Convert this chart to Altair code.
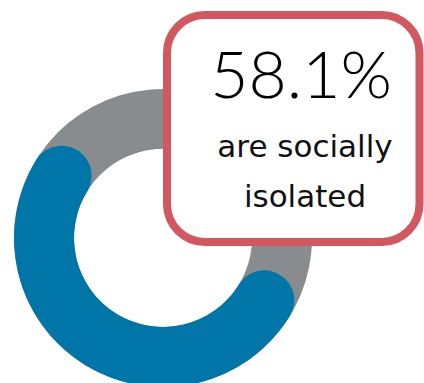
import altair as alt
import pandas as pd

# Data
share_isolated = [58.1]
share_total = [100.0]
headline = ["58.1%"]
caption_lines = ["are socially", "isolated"]

W, H = 424, 383
CX, CY = 163, 238
START = 1.8675  # radians, start angle of the blue arc
TAU = 6.283185307

theta_scale = alt.Scale(domain=[0, 100], range=[START, START + TAU])

ring_df = pd.DataFrame({"start": [0.0], "end": share_total})
blue_df = pd.DataFrame({"start": [0.0], "end": share_isolated})

ring = alt.Chart(ring_df).mark_arc(
    outerRadius=149, innerRadius=89, color="#898C8F"
).encode(
    theta=alt.Theta("start:Q", scale=theta_scale),
    theta2="end:Q",
    x=alt.value(CX), y=alt.value(CY),
)

blue = alt.Chart(blue_df).mark_arc(
    outerRadius=149, innerRadius=89, cornerRadius=30, color="#0076A8"
).encode(
    theta=alt.Theta("start:Q", scale=theta_scale),
    theta2="end:Q",
    x=alt.value(CX), y=alt.value(CY),
)

box = alt.Chart(pd.DataFrame({"k": [0]})).mark_rect(
    fill="white", stroke="#D2575E", strokeWidth=8, cornerRadius=38
).encode(
    x=alt.value(167), x2=alt.value(419.5), y=alt.value(15), y2=alt.value(242)
)

head = alt.Chart(pd.DataFrame({"t": headline})).mark_text(
    font="Lato", fontSize=66, fontWeight=300, color="black",
    align="center", baseline="alphabetic"
).encode(text="t:N", x=alt.value(301), y=alt.value(98))

cap_df = pd.DataFrame({"t": caption_lines, "yy": [157, 207]})
cap = alt.Chart(cap_df).mark_text(
    font="DejaVu Sans", fontSize=31, fontWeight="normal", color="#111111",
    align="center", baseline="alphabetic"
).encode(
    text="t:N", x=alt.value(305),
    y=alt.Y("yy:Q", scale=alt.Scale(domain=[0, H], range=[0, H]), axis=None),
)

chart = alt.layer(ring, blue, box, head, cap).properties(
    width=W, height=H, padding=0, autosize=alt.AutoSizeParams(type="none")
).configure_view(stroke=None).resolve_scale(theta="shared")

chart.save("out.html", embed_options={"renderer": "svg", "actions": False})
